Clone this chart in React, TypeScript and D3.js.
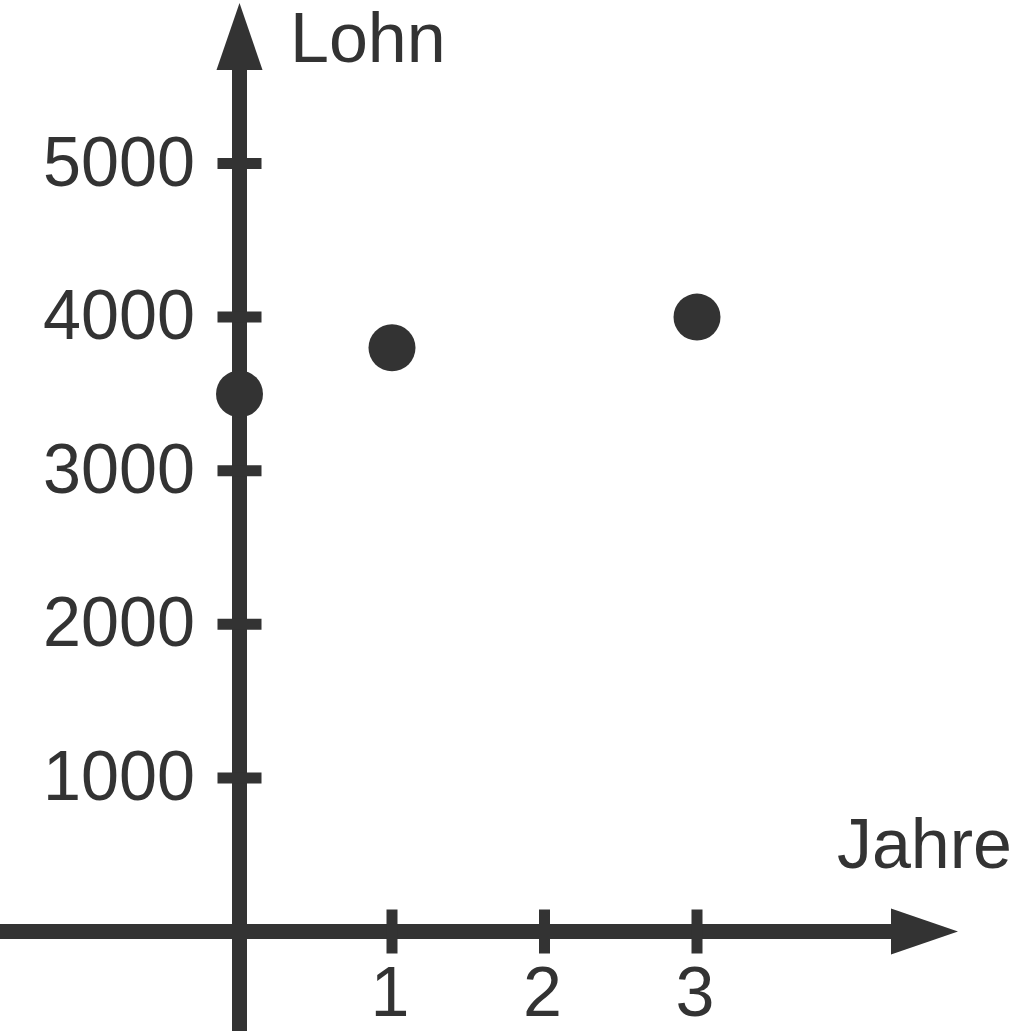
import React from "react";
import * as d3 from "d3";

const WIDTH = 1020;
const HEIGHT = 1031;
const INK = "#333333";
const FONT = "'Liberation Sans', Arial, Helvetica, sans-serif";

// data
const years = [0, 1, 3];
const wages = [3500, 3800, 4000];
const xTickValues = [1, 2, 3];
const yTickValues = [1000, 2000, 3000, 4000, 5000];
const xLabel = "Jahre";
const yLabel = "Lohn";

const xScale = d3.scaleLinear().domain([0, 3]).range([239.5, 697]);
const yScale = d3.scaleLinear().domain([0, 5000]).range([931.5, 163.5]);

const X0 = xScale(0);
const Y0 = yScale(0);
const AXIS_W = 15;
const TICK_W = 11;
const TICK_HALF = 22;
const ARROW_LEN = 67;
const ARROW_HALF = 23;
const X_TIP = 958;
const Y_TIP = 3;

const App: React.FC = () => {
  const points = years.map((yr, i) => ({ x: xScale(yr), y: yScale(wages[i]) }));

  return (
    <svg
      width={WIDTH}
      height={HEIGHT}
      style={{ position: "absolute", left: 0, top: 0, display: "block", background: "#fff" }}
      fontFamily={FONT}
    >
      {/* x axis */}
      <line x1={0} x2={X_TIP - ARROW_LEN + 2} y1={Y0} y2={Y0} stroke={INK} strokeWidth={AXIS_W} />
      <path
        d={`M${X_TIP},${Y0} L${X_TIP - ARROW_LEN},${Y0 - ARROW_HALF} L${X_TIP - ARROW_LEN},${Y0 + ARROW_HALF} Z`}
        fill={INK}
      />
      {/* y axis */}
      <line x1={X0} x2={X0} y1={HEIGHT} y2={Y_TIP + ARROW_LEN - 2} stroke={INK} strokeWidth={AXIS_W} />
      <path
        d={`M${X0},${Y_TIP} L${X0 - ARROW_HALF},${Y_TIP + ARROW_LEN} L${X0 + ARROW_HALF},${Y_TIP + ARROW_LEN} Z`}
        fill={INK}
      />

      {xTickValues.map((t) => (
        <g key={`x${t}`}>
          <line
            x1={xScale(t)}
            x2={xScale(t)}
            y1={Y0 - TICK_HALF}
            y2={Y0 + TICK_HALF}
            stroke={INK}
            strokeWidth={TICK_W}
          />
          <text x={xScale(t) - 2} y={Y0 + 84} textAnchor="middle" fontSize={70} fill={INK}>
            {t}
          </text>
        </g>
      ))}

      {yTickValues.map((t) => (
        <g key={`y${t}`}>
          <line
            x1={X0 - TICK_HALF}
            x2={X0 + TICK_HALF}
            y1={yScale(t)}
            y2={yScale(t)}
            stroke={INK}
            strokeWidth={TICK_W}
          />
          <text
            x={195}
            y={yScale(t) + 22}
            textAnchor="end"
            fontSize={70}
            fill={INK}
            textLength={152}
            lengthAdjust="spacingAndGlyphs"
          >
            {t}
          </text>
        </g>
      ))}

      <text x={290} y={62} fontSize={70} fill={INK}>
        {yLabel}
      </text>
      <text x={1012} y={868} textAnchor="end" fontSize={70} fill={INK}>
        {xLabel}
      </text>

      {points.map((p, i) => (
        <circle key={i} cx={p.x} cy={p.y} r={23.5} fill={INK} />
      ))}
    </svg>
  );
};

export default App;
